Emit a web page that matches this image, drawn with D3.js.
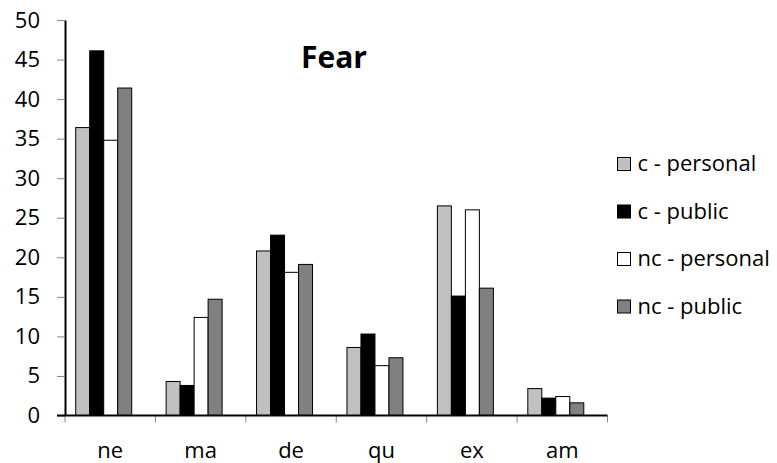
<!DOCTYPE html>
<html>
<head>
<meta charset="utf-8">
<script src="https://cdn.jsdelivr.net/npm/d3@7/dist/d3.min.js"></script>
<style>
  html, body { margin: 0; padding: 0; background: #fff; }
  svg { display: block; font-family: "Open Sans", sans-serif; }
</style>
</head>
<body>
<svg id="chart" width="777" height="463"></svg>
<script>
// Categories along the x axis
const categories = ["ne", "ma", "de", "qu", "ex", "am"];
// Series names (legend order)
const seriesNames = ["c - personal", "c - public", "nc - personal", "nc - public"];
// Values per series, one per category
const cPersonal  = [36.4, 4.3, 20.8, 8.6, 26.5, 3.4];
const cPublic    = [46.1, 3.8, 22.8, 10.3, 15.1, 2.2];
const ncPersonal = [34.8, 12.4, 18.1, 6.3, 26.0, 2.4];
const ncPublic   = [41.4, 14.7, 19.1, 7.3, 16.1, 1.6];
// Y axis tick values
const yTicks = [0, 5, 10, 15, 20, 25, 30, 35, 40, 45, 50];
const title = "Fear";

const seriesValues = [cPersonal, cPublic, ncPersonal, ncPublic];
const fills = ["#c0c0c0", "#000000", "#ffffff", "#808080"];

const svg = d3.select("#chart");

const plot = { left: 65, right: 607.5, top: 20, bottom: 415.5 };

const y = d3.scaleLinear().domain([0, 50]).range([plot.bottom, plot.top]);

const x0 = d3.scaleBand()
  .domain(categories)
  .range([plot.left, plot.right])
  .paddingInner(0.226)
  .paddingOuter(0.113);

// Five bar slots per cluster; the four series fill the first four
const x1 = d3.scaleBand()
  .domain(seriesNames)
  .range([0, x0.bandwidth() * 4 / 5]);

// Bars
const groups = svg.append("g").selectAll("g")
  .data(categories)
  .join("g")
  .attr("transform", c => `translate(${x0(c)},0)`);

groups.selectAll("rect")
  .data((c, ci) => seriesNames.map((s, si) => ({ s, si, v: seriesValues[si][ci] })))
  .join("rect")
  .attr("x", d => x1(d.s) + 0.5)
  .attr("y", d => y(d.v))
  .attr("width", x1.bandwidth())
  .attr("height", d => y(0) - y(d.v))
  .attr("fill", d => fills[d.si])
  .attr("stroke", "#000")
  .attr("stroke-width", 1);

// Y axis
const yAxis = svg.append("g")
  .attr("transform", `translate(${plot.left},0)`)
  .call(d3.axisLeft(y).tickValues(yTicks).tickSize(8).tickSizeOuter(0).tickPadding(17));
yAxis.select(".domain").attr("stroke", "#000").attr("stroke-width", 2);
yAxis.selectAll(".tick line").attr("stroke", "#868686").attr("stroke-width", 1);
yAxis.selectAll(".tick text")
  .attr("fill", "#000")
  .attr("font-size", 22)
  .attr("font-family", "'Open Sans', sans-serif");

// X axis baseline and category boundary ticks
const step = x0.step();
const boundaries = d3.range(categories.length + 1).map(i => plot.left + i * step);
svg.append("g").selectAll("line")
  .data(boundaries)
  .join("line")
  .attr("x1", d => d).attr("x2", d => d)
  .attr("y1", y(0)).attr("y2", y(0) + 7)
  .attr("stroke", "#868686")
  .attr("stroke-width", 1);
svg.append("line")
  .attr("x1", plot.left - 8).attr("x2", plot.right)
  .attr("y1", y(0)).attr("y2", y(0))
  .attr("stroke", "#000")
  .attr("stroke-width", 2);

// Category labels
svg.append("g").selectAll("text")
  .data(categories)
  .join("text")
  .attr("x", c => x0(c) - (step - x0.bandwidth()) / 2 + step / 2)
  .attr("y", 457.5)
  .attr("text-anchor", "middle")
  .attr("font-size", 22)
  .attr("fill", "#000")
  .text(d => d);

// Title
svg.append("text")
  .attr("x", 334)
  .attr("y", 68)
  .attr("text-anchor", "middle")
  .attr("font-size", 30)
  .attr("font-weight", "bold")
  .attr("fill", "#000")
  .text(title);

// Legend
const legend = svg.append("g").selectAll("g")
  .data(seriesNames)
  .join("g")
  .attr("transform", (d, i) => `translate(617.5,${164 + i * 47.5})`);
legend.append("rect")
  .attr("x", 0).attr("y", -6.5)
  .attr("width", 13).attr("height", 13)
  .attr("fill", (d, i) => fills[i])
  .attr("stroke", "#000")
  .attr("stroke-width", 1);
legend.append("text")
  .attr("x", 20)
  .attr("y", 7)
  .attr("font-size", 22)
  .attr("fill", "#000")
  .text(d => d);
</script>
</body>
</html>
